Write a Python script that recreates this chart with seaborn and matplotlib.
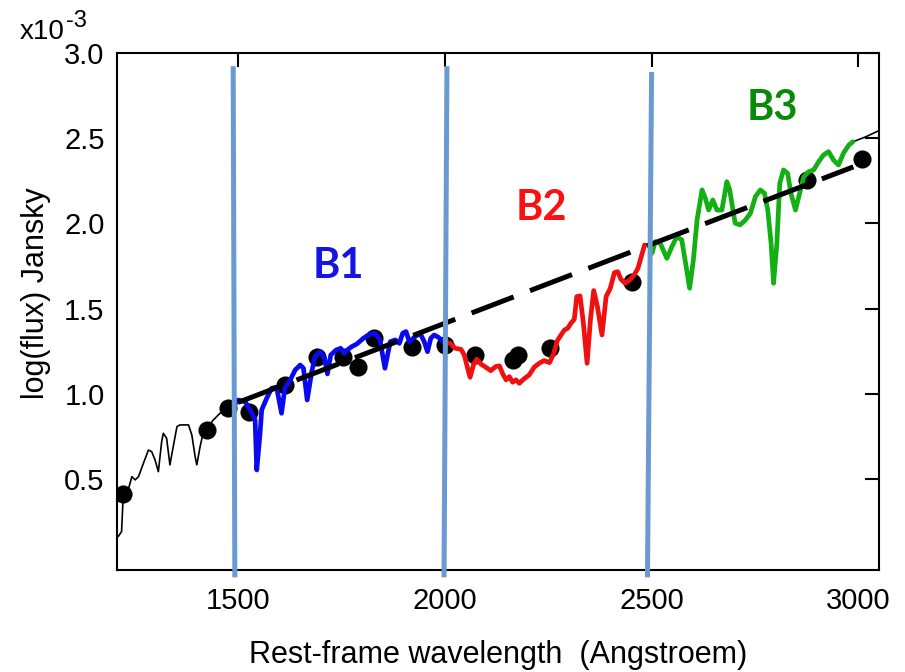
import matplotlib
matplotlib.use("Agg")
import matplotlib.pyplot as plt
import numpy as np
import pandas as pd
import seaborn as sns

# ---- spectrum segments (wavelength in Angstroem, flux in 1e-3 Jansky) ----
uv_wave = [1210, 1218, 1222, 1234, 1243, 1251, 1259, 1271, 1283, 1291, 1299, 1307,
           1315, 1319, 1327, 1335, 1343, 1352, 1359, 1380, 1388, 1396, 1400, 1408,
           1416, 1424, 1440, 1456, 1472, 1490]
uv_flux = [0.164, 0.193, 0.398, 0.437, 0.515, 0.496, 0.515, 0.594, 0.671, 0.661, 0.613, 0.544,
           0.720, 0.769, 0.740, 0.584, 0.691, 0.808, 0.818, 0.818, 0.759, 0.632, 0.584, 0.691,
           0.779, 0.799, 0.847, 0.886, 0.906, 0.930]

b1_wave = [1490, 1500, 1517, 1529, 1541, 1545, 1553, 1557, 1569, 1581, 1593, 1605, 1613,
           1626, 1638, 1650, 1658, 1667, 1678, 1686, 1698, 1709, 1716, 1724, 1737, 1748,
           1756, 1764, 1775, 1787, 1803, 1815, 1831, 1843, 1855, 1868, 1880, 1890, 1898,
           1906, 1914, 1928, 1940, 1950, 1958, 1966, 1974, 1984, 1996, 2004]
b1_flux = [0.930, 0.964, 0.954, 0.906, 0.847, 0.554, 0.769, 0.906, 0.974, 1.033, 1.039, 0.886, 1.033,
           1.082, 1.140, 1.169, 1.150, 0.964, 1.130, 1.218, 1.247, 1.209, 1.117, 1.228, 1.257, 1.267,
           1.238, 1.257, 1.277, 1.292, 1.326, 1.345, 1.355, 1.316, 1.150, 1.306, 1.316, 1.296, 1.355,
           1.365, 1.306, 1.335, 1.355, 1.306, 1.247, 1.326, 1.345, 1.332, 1.306, 1.300]

b2_wave = [2004, 2013, 2025, 2039, 2047, 2055, 2061, 2069, 2077, 2087, 2099, 2111, 2123,
           2132, 2140, 2148, 2156, 2164, 2172, 2180, 2192, 2204, 2216, 2228, 2240, 2253,
           2263, 2272, 2281, 2289, 2297, 2305, 2313, 2319, 2327, 2335, 2344, 2352, 2360,
           2369, 2380, 2390, 2400, 2410, 2418, 2426, 2436, 2447, 2458, 2467, 2475, 2483]
b2_flux = [1.300, 1.296, 1.267, 1.261, 1.228, 1.150, 1.097, 1.169, 1.203, 1.175, 1.156, 1.136, 1.160,
           1.164, 1.117, 1.082, 1.101, 1.068, 1.082, 1.062, 1.089, 1.111, 1.156, 1.179, 1.195, 1.183,
           1.234, 1.312, 1.345, 1.374, 1.384, 1.414, 1.437, 1.570, 1.574, 1.414, 1.179, 1.433, 1.605,
           1.511, 1.345, 1.570, 1.618, 1.710, 1.716, 1.671, 1.648, 1.667, 1.697, 1.736, 1.804, 1.872]

b3_wave = [2501, 2509, 2521, 2537, 2549, 2561, 2573, 2581, 2592, 2601, 2610, 2622, 2630,
           2638, 2648, 2658, 2670, 2682, 2689, 2694, 2702, 2714, 2727, 2739, 2751, 2763,
           2773, 2781, 2789, 2795, 2803, 2810, 2819, 2829, 2837, 2848, 2858, 2868, 2880,
           2892, 2904, 2916, 2928, 2940, 2952, 2964, 2977, 2987]
b3_flux = [1.824, 1.892, 1.882, 1.794, 1.862, 1.921, 1.902, 1.784, 1.619, 1.784, 2.019, 2.195, 2.146,
           2.077, 2.136, 2.077, 2.077, 2.243, 2.195, 2.117, 2.000, 1.990, 2.019, 2.058, 2.155, 2.195,
           2.175, 2.077, 1.882, 1.648, 1.882, 2.234, 2.312, 2.292, 2.175, 2.077, 2.175, 2.272, 2.302,
           2.312, 2.360, 2.400, 2.419, 2.370, 2.341, 2.410, 2.458, 2.477]

ir_wave = [2987, 3017, 3053]
ir_flux = [2.477, 2.505, 2.546]

# ---- photometry and continuum fit ----
phot_wave = [1222, 1425, 1476, 1526, 1614, 1691, 1754, 1790, 1829, 1921, 2001, 2073,
             2165, 2177, 2255, 2453, 2877, 3010]
phot_flux = [0.414, 0.789, 0.917, 0.894, 1.052, 1.216, 1.216, 1.158, 1.327, 1.275, 1.286, 1.228,
             1.199, 1.228, 1.269, 1.656, 2.253, 2.376]

fit_wave = [1500, 2988]
fit_flux = [0.95, 2.33]

# ---- band boundaries and labels ----
edge_top = [1488, 2005, 2500]
edge_bottom = [1492, 1998, 2490]
edge_top_flux = [2.92, 2.92, 2.886]
band_names = ["B1", "B2", "B3"]
band_label_wave = [1742, 2233, 2792]
band_label_flux = [1.75, 2.09, 2.675]
band_text_colors = ["#1414e6", "#ff1010", "#0a8a0a"]

x_ticks = [1500, 2000, 2500, 3000]
y_ticks = [0.5, 1.0, 1.5, 2.0, 2.5, 3.0]
y_tick_labels = ["0.5", "1.0", "1.5", "2.0", "2.5", "3.0"]

sns.set_style("white")
plt.rcParams["font.family"] = ["Liberation Sans", "DejaVu Sans"]
plt.rcParams["text.color"] = "black"
plt.rcParams["axes.labelcolor"] = "black"
plt.rcParams["xtick.color"] = "black"
plt.rcParams["ytick.color"] = "black"

fig = plt.figure(figsize=(9.05, 6.72), dpi=100)
ax = fig.add_axes([117 / 905, 1 - 570 / 672, (879 - 117) / 905, (570 - 52.5) / 672])

segments = [
    (uv_wave, uv_flux, "black", 1.2),
    (ir_wave, ir_flux, "black", 1.2),
    (b1_wave, b1_flux, "#0a0af0", 3.4),
    (b2_wave, b2_flux, "#f01010", 3.4),
    (b3_wave, b3_flux, "#12b012", 3.4),
]

sns.scatterplot(x=phot_wave, y=phot_flux, ax=ax, color="black", s=170,
                edgecolor="black", linewidth=0, zorder=2)

for w, f, c, lw in segments:
    df = pd.DataFrame({"wave": w, "flux": f})
    sns.lineplot(data=df, x="wave", y="flux", ax=ax, color=c, linewidth=lw,
                 sort=False, estimator=None, zorder=3)

fit_df = pd.DataFrame({"wave": fit_wave, "flux": fit_flux})
sns.lineplot(data=fit_df, x="wave", y="flux", ax=ax, color="black", linewidth=3.6,
             zorder=4).lines[-1].set_dashes((9, 3.5))

for xt, xb, yt in zip(edge_top, edge_bottom, edge_top_flux):
    ax.plot([xb, xt], [-0.075, yt], color="#6a9bd0", linewidth=3.6,
            solid_capstyle="butt", zorder=5, clip_on=False)

for name, wx, fy, c in zip(band_names, band_label_wave, band_label_flux, band_text_colors):
    ax.text(wx, fy, name, color=c, fontsize=30, fontweight="bold",
            family=["Lato", "DejaVu Sans"], ha="center", va="center")

ax.set_xlim(1207, 3050)
ax.set_ylim(-0.032, 3.0)
ax.set_xticks(x_ticks)
ax.set_xticklabels([str(v) for v in x_ticks])
ax.set_yticks(y_ticks)
ax.set_yticklabels(y_tick_labels)
ax.tick_params(axis="both", which="both", direction="in", length=10, width=1.5,
               labelsize=21, top=True, right=True, color="black", labelcolor="black")
ax.tick_params(axis="x", pad=12)
ax.tick_params(axis="y", pad=9)
for sp in ax.spines.values():
    sp.set_visible(True)
    sp.set_color("black")
    sp.set_linewidth(1.5)

ax.set_xlabel("Rest-frame wavelength  (Angstroem)", fontsize=22, labelpad=18)
ax.set_ylabel("log(flux) Jansky", fontsize=22)
ax.yaxis.set_label_coords(-0.086, 0.535)

fig.text(20 / 905, 1 - 39 / 672, "x10", fontsize=20, ha="left", va="baseline")
fig.text(66 / 905, 1 - 27 / 672, "-3", fontsize=17, ha="left", va="baseline")

fig.savefig("out.png", dpi=100, facecolor="white")
